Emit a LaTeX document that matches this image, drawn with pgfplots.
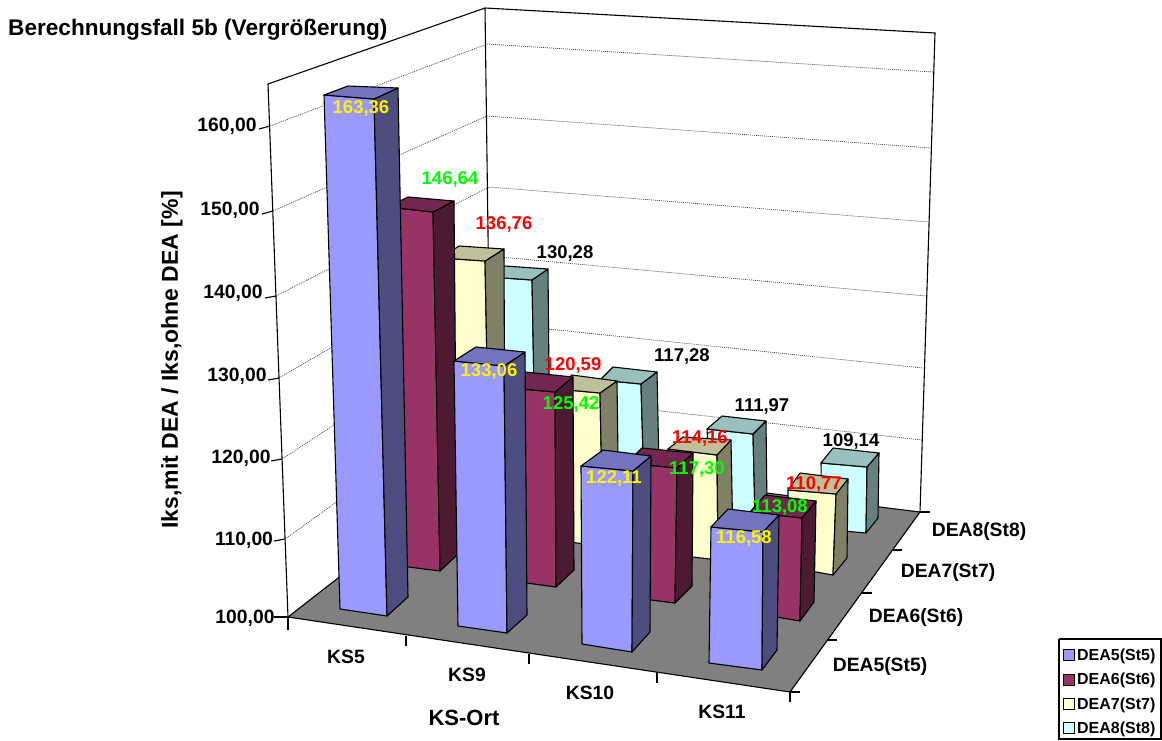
\documentclass[border=0pt]{standalone}
\usepackage{pgfplots}
\pgfplotsset{compat=1.18}
\usepackage{fontspec}
\setmainfont{Liberation Sans}
\definecolor{aF}{HTML}{9999FF}\definecolor{aT}{HTML}{7373BF}\definecolor{aS}{HTML}{4D4D80}
\definecolor{bF}{HTML}{993366}\definecolor{bT}{HTML}{732650}\definecolor{bS}{HTML}{4D1A33}
\definecolor{cF}{HTML}{FFFFCC}\definecolor{cT}{HTML}{BFBF99}\definecolor{cS}{HTML}{808066}
\definecolor{dF}{HTML}{CCFFFF}\definecolor{dT}{HTML}{99BFBF}\definecolor{dS}{HTML}{668080}
\definecolor{lgreen}{HTML}{00FF00}
% #1 series letter, #2 FL top, #3 FR top, #4 BR top, #5 BL top, #6 FL bottom, #7 FR bottom, #8 BR bottom
\newcommand{\tdbar}[8]{%
  \addplot[forget plot,draw=black,line width=1.1pt,line join=round,fill=#1F] coordinates {#2 #3 #7 #6} -- cycle;
  \addplot[forget plot,draw=black,line width=1.1pt,line join=round,fill=#1S] coordinates {#3 #4 #8 #7} -- cycle;
  \addplot[forget plot,draw=black,line width=1.1pt,line join=round,fill=#1T] coordinates {#2 #3 #4 #5} -- cycle;
}
\newcommand{\grid}[1]{\addplot[forget plot,black!75,line width=.7pt,dash pattern=on 1pt off 1pt] coordinates {#1};}
\newcommand{\axl}[1]{\addplot[forget plot,black,line width=1.1pt] coordinates {#1};}
\newcommand{\lab}[4]{\node[anchor=base,text=#1,font=\fontsize{18.5}{20}\selectfont\bfseries,inner sep=0pt] at (axis cs:#2,#3) [yshift=-6.5pt] {#4};}
\newcommand{\tck}[3]{\node[anchor=base,font=\fontsize{19.3}{20}\selectfont\bfseries,inner sep=0pt] at (axis cs:#1,#2) [yshift=-6.5pt] {#3};}
\begin{document}
\begin{tikzpicture}
\useasboundingbox (0,0) rectangle (1162pt,740pt);
\begin{axis}[
  scale only axis,width=1162pt,height=740pt,
  xmin=0,xmax=1162,ymin=0,ymax=740,y dir=reverse,
  hide axis,clip=false,
  legend cell align=left,
  legend image code/.code={\draw[#1,draw=black,line width=.9pt] (0pt,-5.5pt) rectangle (11pt,5.5pt);},
  legend style={at={(axis cs:1062,738)},anchor=south west,draw=none,fill=none,
    font=\fontsize{16}{16}\selectfont\bfseries,inner sep=1pt,row sep=7.2pt,
    /tikz/every even column/.append style={column sep=2pt}},
]
\addlegendimage{fill=aF}\addlegendentry{DEA5(St5)}
\addlegendimage{fill=bF}\addlegendentry{DEA6(St6)}
\addlegendimage{fill=cF}\addlegendentry{DEA7(St7)}
\addlegendimage{fill=dF}\addlegendentry{DEA8(St8)}
\axl{(1059,639) (1161,639) (1161,739) (1059,739) (1059,639)}
% floor
\addplot[forget plot,draw=black,line width=1.1pt,fill={rgb,255:red,128;green,128;blue,128}] coordinates {(288,617) (790,692) (920,512) (491,459)} -- cycle;
% walls
\axl{(288,617) (268,84) (485,8) (935,33) (920,512)}
\axl{(485,8) (491,459)}
% gridlines on left wall and back wall
\grid{(270,126) (487,44) (933,72)}
\grid{(273,211) (487,116) (931,148)}
\grid{(276,296) (489,187) (929,222)}
\grid{(279,378) (489,256) (926,296)}
\grid{(282,459) (490,323) (923,368)}
\grid{(285,539) (490,392) (922,440)}
% ticks
\axl{(270,126) (259,129)}
\axl{(273,211) (262,214)}
\axl{(276,296) (265,298)}
\axl{(279,378) (268,380)}
\axl{(282,459) (271,461)}
\axl{(285,539) (274,541)}
\axl{(288,617) (274,617)}
\axl{(288,617) (288,630)}
\axl{(406,636) (406,646)}
\axl{(529,654) (529,664)}
\axl{(657,672) (657,683)}
\axl{(790,692) (790,702)}
\axl{(790,692) (800,692)}
\axl{(827,640) (837,640)}
\axl{(862,593) (872,593)}
\axl{(893,550) (902,550)}
\axl{(920,512) (930,512)}
% DEA8 row
\tdbar{d}{(490,277)}{(532,280)}{(548,269)}{(505,266)}{(494,492)}{(536,497)}{(550,484)}
\tdbar{d}{(600,380)}{(641,384)}{(657,372)}{(613,367)}{(604,520)}{(645,525)}{(660,513)}
\tdbar{d}{(707,429)}{(753,434)}{(766,421)}{(722,416)}{(712,510)}{(755,516)}{(767,506)}
\tdbar{d}{(821,463)}{(867,467)}{(879,453)}{(833,448)}{(822,529)}{(866,533)}{(878,518)}
% DEA7 row
\tdbar{c}{(441,258)}{(485,261)}{(504,249)}{(459,246)}{(447,519)}{(490,524)}{(505,510)}
\tdbar{c}{(557,389)}{(600,393)}{(617,381)}{(572,375)}{(560,541)}{(603,546)}{(619,532)}
\tdbar{c}{(668,449)}{(717,455)}{(731,440)}{(683,437)}{(668,554)}{(718,560)}{(733,545)}
\tdbar{c}{(788,490)}{(836,494)}{(848,479)}{(800,473)}{(788,567)}{(833,575)}{(847,558)}
% DEA6 row
\tdbar{b}{(388,207)}{(433,212)}{(454,201)}{(408,197)}{(393,565)}{(440,571)}{(457,555)}
\tdbar{b}{(510,388)}{(555,392)}{(573,377)}{(525,372)}{(512,581)}{(556,587)}{(574,570)}
\tdbar{b}{(627,463)}{(677,468)}{(693,453)}{(642,448)}{(627,597)}{(675,603)}{(692,586)}
\tdbar{b}{(750,512)}{(802,518)}{(816,501)}{(765,495)}{(752,613)}{(800,621)}{(814,602)}
% DEA5 row
\tdbar{a}{(324,95)}{(374,99)}{(398,88)}{(348,86)}{(340,609)}{(387,616)}{(408,597)}
\tdbar{a}{(454,361)}{(504,366)}{(525,352)}{(476,347)}{(458,626)}{(507,633)}{(527,615)}
\tdbar{a}{(581,466)}{(633,471)}{(651,456)}{(603,450)}{(582,644)}{(632,652)}{(650,632)}
\tdbar{a}{(711,527)}{(763,532)}{(779,515)}{(728,509)}{(709,663)}{(762,670)}{(777,650)}
% data labels
\lab{yellow}{361}{107}{163,36}
\lab{lgreen}{450}{178}{146,64}
\lab{red}{504}{223}{136,76}
\lab{black}{565}{252}{130,28}
\lab{yellow}{489}{370}{133,06}
\lab{lgreen}{571}{403}{125,42}
\lab{red}{573}{364}{120,59}
\lab{black}{682}{355}{117,28}
\lab{yellow}{614}{477}{122,11}
\lab{lgreen}{697}{468}{117,30}
\lab{red}{700}{437}{114,16}
\lab{black}{762}{405}{111,97}
\lab{yellow}{744}{537}{116,58}
\lab{lgreen}{780}{506}{113,08}
\lab{red}{814}{483}{110,77}
\lab{black}{851}{440}{109,14}
% tick labels
\tck{245}{617}{100,00}
\tck{244}{539}{110,00}
\tck{241}{457}{120,00}
\tck{237}{375}{130,00}
\tck{233}{292}{140,00}
\tck{230}{209}{150,00}
\tck{227}{125}{160,00}
\tck{346}{657}{KS5}
\tck{467}{675}{KS9}
\tck{590}{693}{KS10}
\tck{722}{712}{KS11}
\tck{880}{665}{DEA5(St5)}
\tck{916}{616}{DEA6(St6)}
\tck{948}{571}{DEA7(St7)}
\tck{979}{530}{DEA8(St8)}
% titles
\node[anchor=west,font=\fontsize{22.6}{24}\selectfont\bfseries,inner sep=0pt] at (axis cs:8,30) {Berechnungsfall 5b (Vergrößerung)};
\node[font=\fontsize{22}{24}\selectfont\bfseries,inner sep=0pt] at (axis cs:464,718) {KS-Ort};
\node[rotate=90,font=\fontsize{23}{24}\selectfont\bfseries,inner sep=0pt] at (axis cs:172,360) {Iks,mit DEA / Iks,ohne DEA [\%]};
\end{axis}
\end{tikzpicture}
\end{document}
